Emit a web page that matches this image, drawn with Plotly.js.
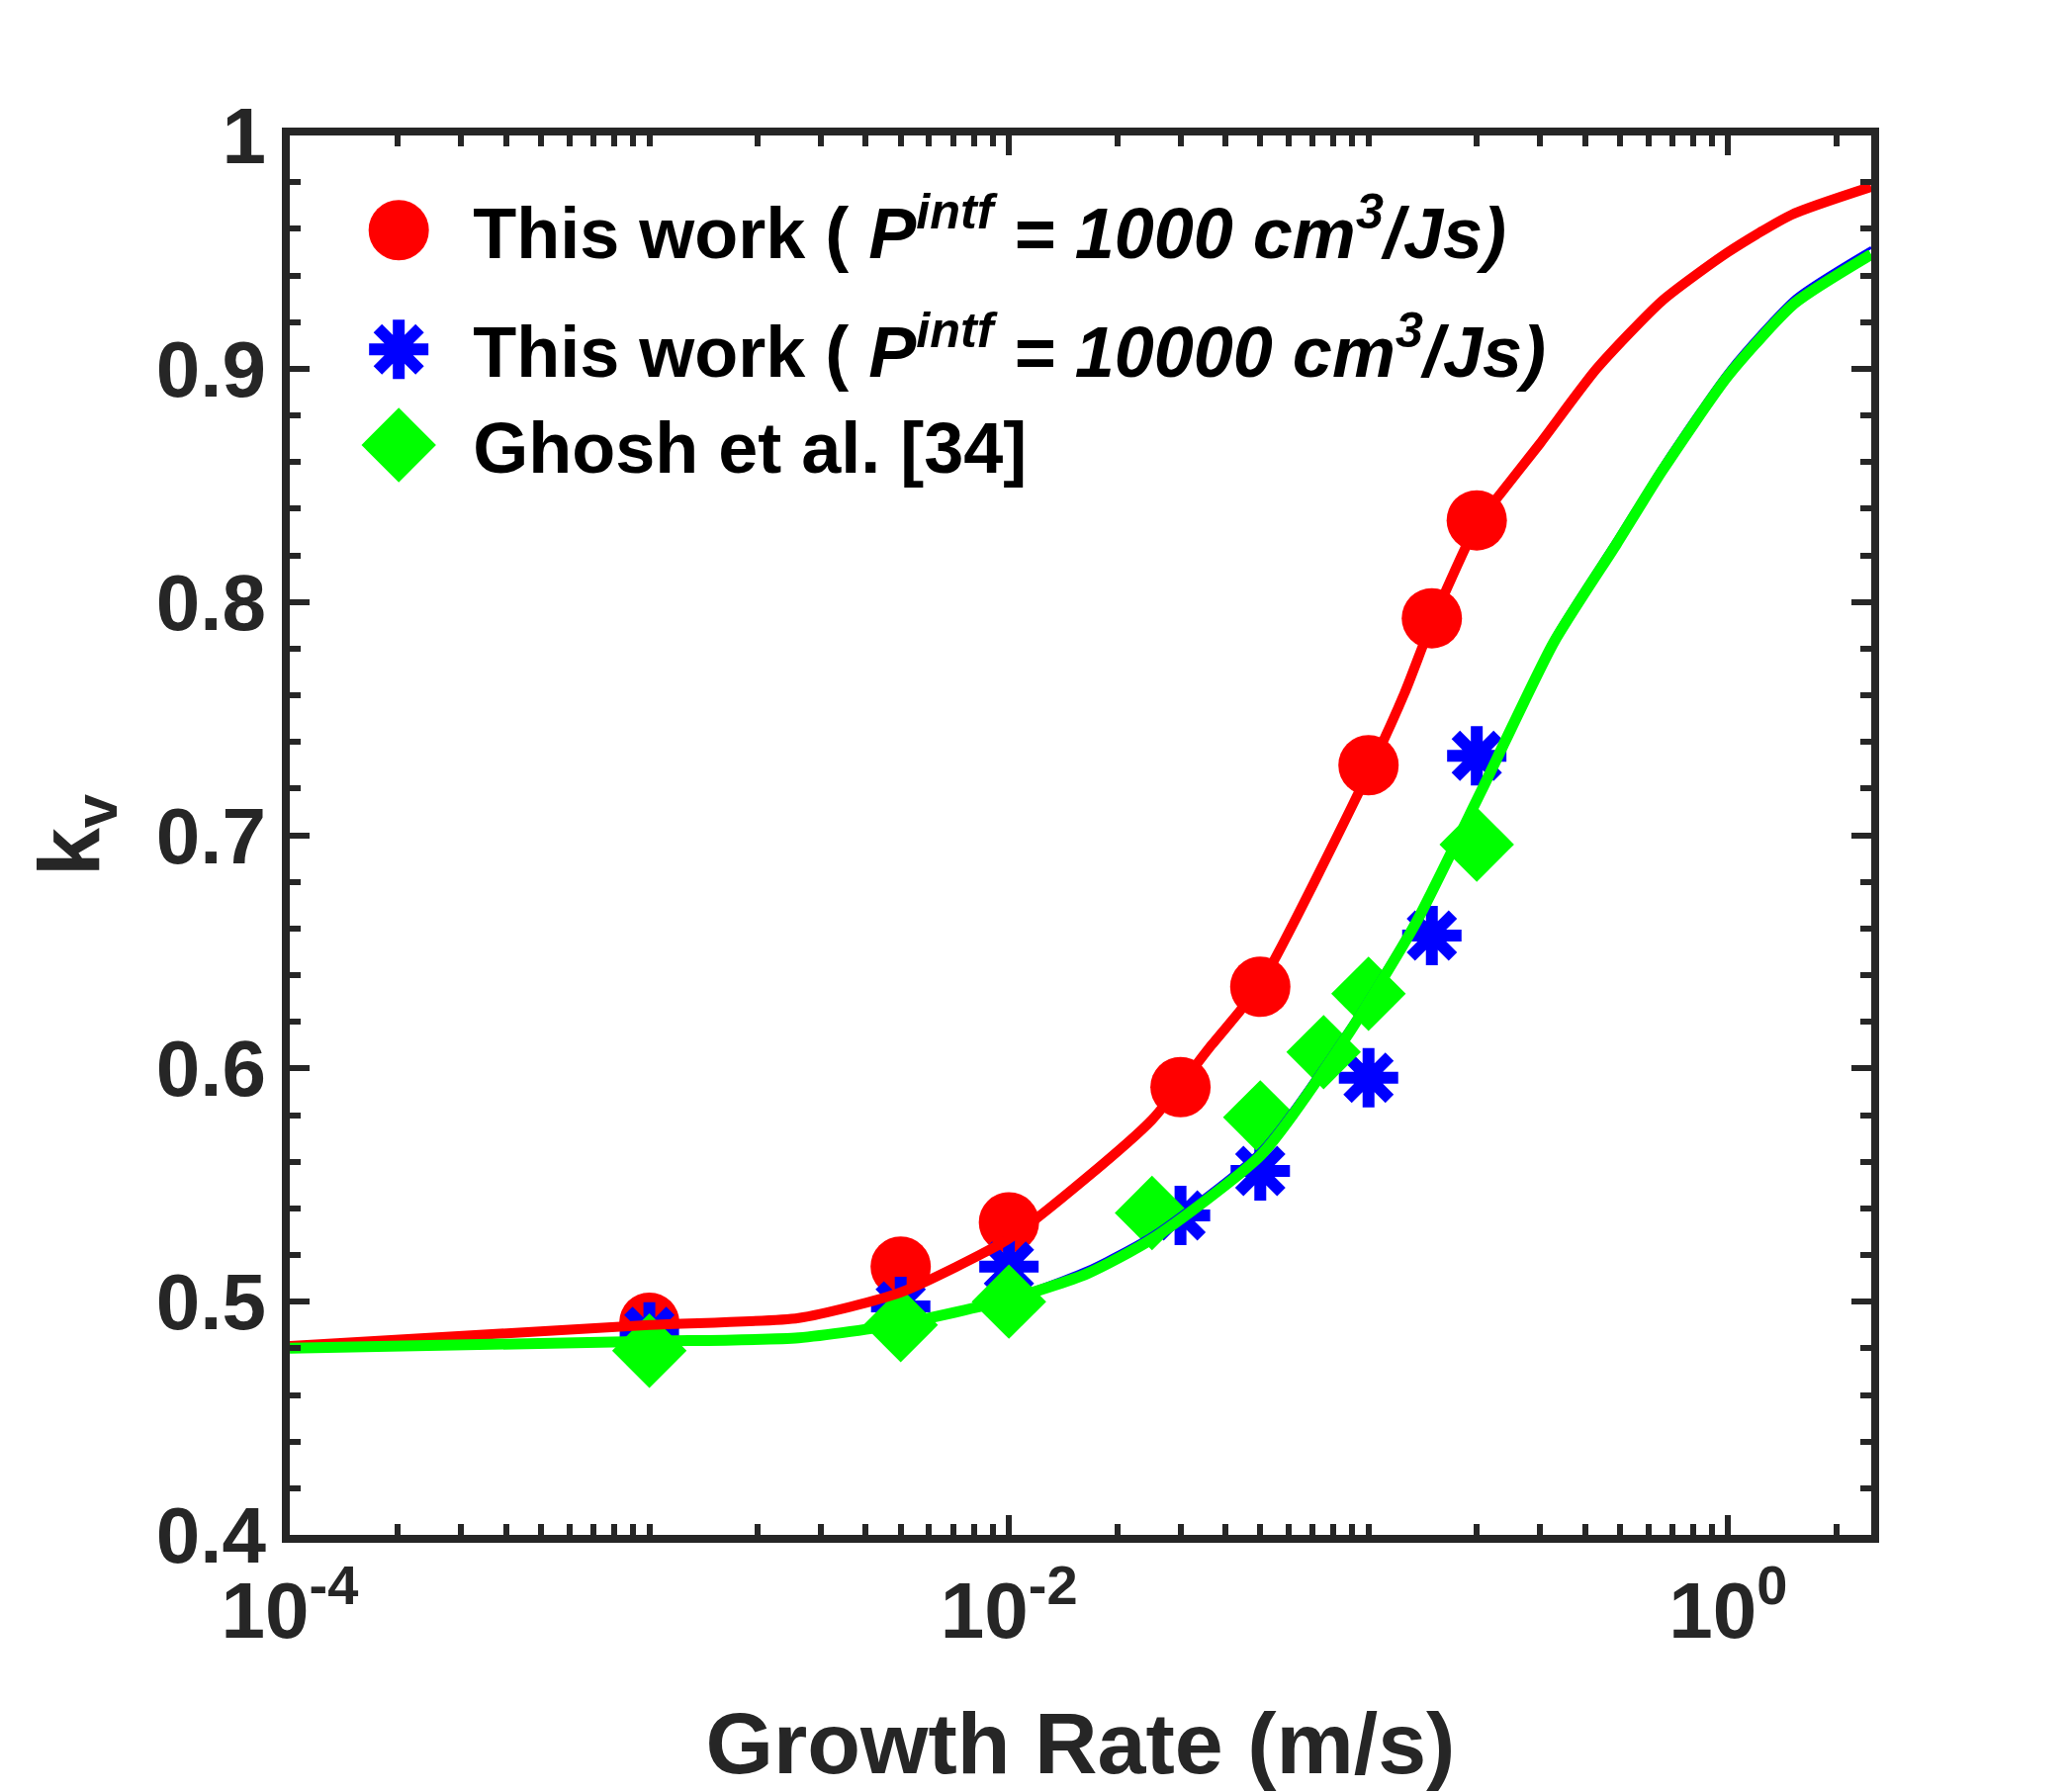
<!DOCTYPE html>
<html>
<head>
<meta charset="utf-8">
<script src="https://cdn.plot.ly/plotly-3.0.1.min.js"></script>
<style>body{margin:0;background:#fff}</style>
</head>
<body>
<div id="myDiv" style="width:2094px;height:1812px"></div>
<script>
// measured points (growth rate in m/s, k_v)
const xRed = [0.001, 0.005, 0.01, 0.03, 0.05, 0.1, 0.15, 0.2];
const yRed = [0.491, 0.515, 0.534, 0.592, 0.635, 0.730, 0.793, 0.835];

const xBlue = [0.001, 0.005, 0.01, 0.03, 0.05, 0.1, 0.15, 0.2];
const yBlue = [0.487, 0.498, 0.515, 0.537, 0.556, 0.596, 0.657, 0.734];

const xGreen = [0.001, 0.005, 0.01, 0.025, 0.05, 0.075, 0.1, 0.2];
const yGreen = [0.479, 0.490, 0.500, 0.538, 0.579, 0.607, 0.632, 0.696];

// model curves
const xRedFit = [1e-4, 1e-3, 2.6e-3, 5e-3, 0.01, 0.0164, 0.025, 0.0366, 0.05, 0.1, 0.126, 0.15, 0.2, 0.229, 0.3, 0.431, 0.654, 1.0, 1.5, 2.5];
const yRedFit = [0.481, 0.490, 0.493, 0.504, 0.527, 0.553, 0.578, 0.610, 0.636, 0.727, 0.761, 0.791, 0.833, 0.845, 0.868, 0.900, 0.929, 0.950, 0.966, 0.978];

const xFit = [1e-4, 1e-3, 2.6e-3, 5e-3, 0.01, 0.0165, 0.0251, 0.0503, 0.0889, 0.135, 0.206, 0.327, 0.49, 0.654, 1.0, 1.53, 2.5];
const yBlueFit = [0.480, 0.483, 0.4847, 0.491, 0.502, 0.5145, 0.5295, 0.566, 0.619, 0.665, 0.722, 0.7855, 0.828, 0.859, 0.900, 0.931, 0.952];
const yGreenFit = [0.480, 0.483, 0.4845, 0.4905, 0.501, 0.512, 0.527, 0.563, 0.616, 0.662, 0.719, 0.7825, 0.825, 0.856, 0.897, 0.928, 0.949];

const xTicks = [1e-4, 1e-2, 1];
const xTickText = ['10<sup>-4</sup>', '10<sup>-2</sup>', '10<sup>0</sup>'];
const yTicks = [0.4, 0.5, 0.6, 0.7, 0.8, 0.9, 1];
const yTickText = ['0.4', '0.5', '0.6', '0.7', '0.8', '0.9', '1'];

const FONT = 'Liberation Sans, Arial, sans-serif';
const AXC = '#262626';

let traces = [
    {
        x: xRed, y: yRed, mode: 'markers', legendgroup: 'p1000',
        name: 'This work ( <i>P<sup>intf</sup> = 1000 cm<sup>3</sup>/Js)</i>',
        marker: {symbol: 'circle', size: 61, color: '#ff0000'}
    },
    {
        x: xBlue, y: yBlue, mode: 'markers', legendgroup: 'rest',
        name: 'This work ( <i>P<sup>intf</sup> = 10000 cm<sup>3</sup>/Js)</i>',
        marker: {symbol: 'asterisk', size: 50, color: '#0000ff', line: {width: 12, color: '#0000ff'}}
    },
    {
        x: xGreen, y: yGreen, mode: 'markers', legendgroup: 'rest',
        name: 'Ghosh et al. [34]',
        marker: {symbol: 'diamond', size: 58, color: '#00ff00'}
    },
    {x: xRedFit, y: yRedFit, mode: 'lines', showlegend: false, line: {color: '#ff0000', width: 10, shape: 'spline', smoothing: 0.6}},
    {x: xFit, y: yBlueFit, mode: 'lines', showlegend: false, line: {color: '#0000ff', width: 3, shape: 'spline', smoothing: 0.6}},
    {x: xFit, y: yGreenFit, mode: 'lines', showlegend: false, line: {color: '#00ff00', width: 11, shape: 'spline', smoothing: 0.6}}
];

let axisCommon = {
    showgrid: false,
    zeroline: false,
    showline: true,
    linecolor: AXC,
    linewidth: 8,
    mirror: 'allticks',
    ticks: 'inside',
    ticklen: 20,
    tickwidth: 6,
    tickcolor: AXC,
    tickfont: {family: FONT, size: 80, color: AXC, weight: 'bold'}
};

let layout = {
    width: 2094,
    height: 1812,
    margin: {l: 293, r: 202, t: 137, b: 260},
    paper_bgcolor: '#fff',
    plot_bgcolor: '#fff',
    showlegend: true,
    legend: {
        x: 0.022, y: 0.97, xanchor: 'left', yanchor: 'top',
        bgcolor: 'rgba(0,0,0,0)',
        itemwidth: 140,
        traceorder: 'grouped',
        tracegroupgap: 24,
        font: {family: FONT, size: 72, color: '#000', weight: 'bold'}
    },
    xaxis: Object.assign({}, axisCommon, {
        type: 'log',
        range: [-4, 0.398],
        tickmode: 'array',
        tickvals: xTicks,
        ticktext: xTickText,
        minor: {ticks: 'inside', ticklen: 11, tickwidth: 6, tickcolor: AXC, dtick: 'D1', showgrid: false},
        title: {text: 'Growth Rate (m/s)', font: {family: FONT, size: 88, color: AXC, weight: 'bold'}}
    }),
    yaxis: Object.assign({}, axisCommon, {
        range: [0.4, 1],
        tickmode: 'array',
        tickvals: yTicks,
        ticktext: yTickText,
        minor: {ticks: 'inside', ticklen: 11, tickwidth: 6, tickcolor: AXC, dtick: 0.02, showgrid: false},
        title: {text: 'k<sub>v</sub>', font: {family: FONT, size: 88, color: AXC, weight: 'bold'}}
    })
};

Plotly.newPlot('myDiv', traces, layout, {staticPlot: true}).then(function (gd) {
    // legend symbols are capped at 16px by plotly, blow them up to the plot marker size
    gd.querySelectorAll('.legend .traces').forEach(function (item) {
        let trace = item.__data__[0].trace;
        let k = trace.marker.size / 16;
        item.querySelectorAll('path.scatterpts').forEach(function (p) {
            p.setAttribute('transform', (p.getAttribute('transform') || '') + ' scale(' + k + ')');
            if (trace.marker.symbol === 'asterisk') {
                p.style.strokeWidth = (trace.marker.line.width / k) + 'px';
            }
        });
    });
});
</script>
</body>
</html>
